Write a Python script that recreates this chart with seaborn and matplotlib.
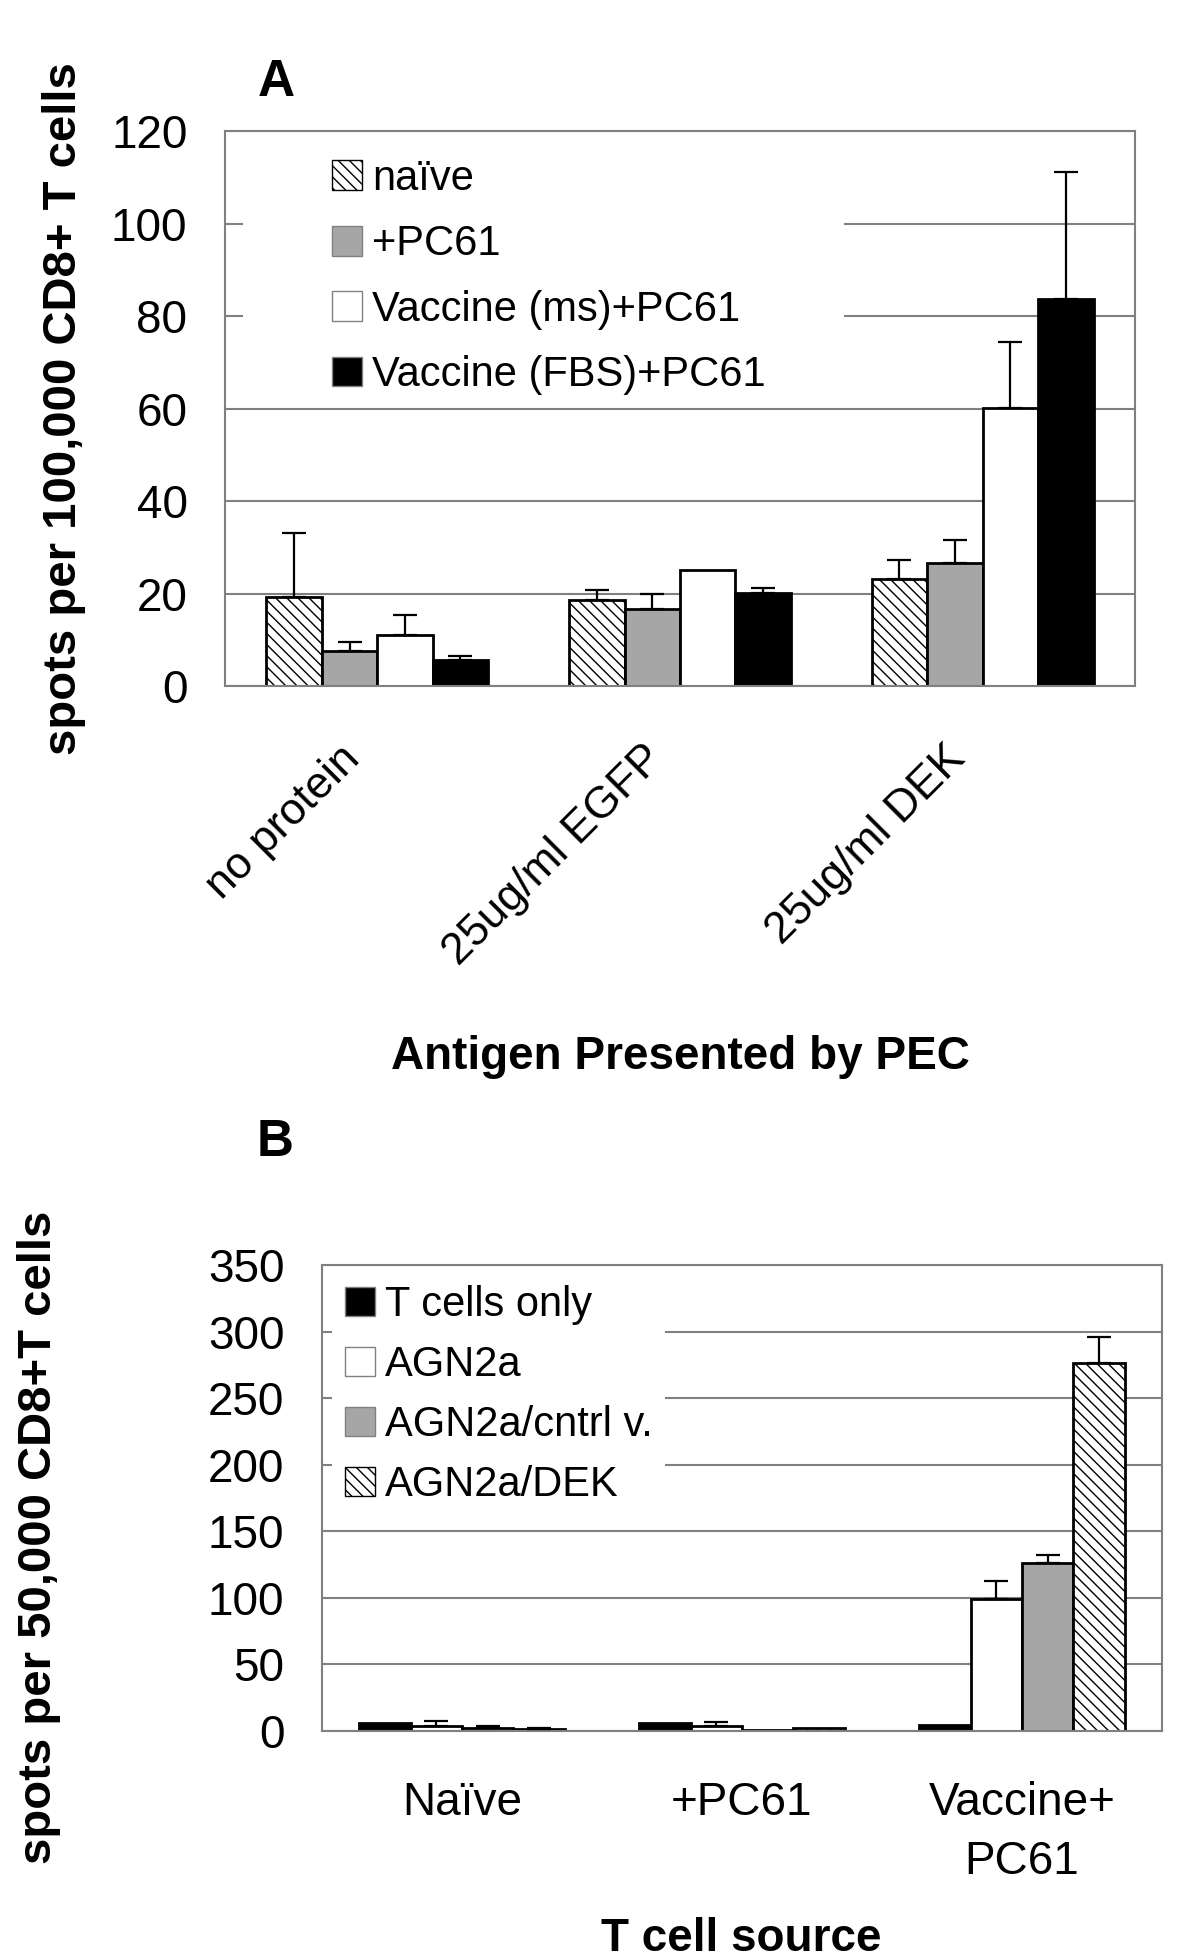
import numpy as np
import pandas as pd
import matplotlib
matplotlib.use('Agg')
import matplotlib.pyplot as plt
import matplotlib.transforms as mtransforms
import seaborn as sns
from matplotlib.patches import Patch, Rectangle

sns.set_style('white')
plt.rcParams['font.family'] = ['Liberation Sans', 'DejaVu Sans']
plt.rcParams['hatch.linewidth'] = 1.0
plt.rcParams['text.color'] = 'black'
plt.rcParams['xtick.labelcolor'] = 'black'
plt.rcParams['ytick.labelcolor'] = 'black'

# panel A: spots per 100,000 CD8+ T cells
antigens = ['no protein', '25ug/ml EGFP', '25ug/ml DEK']
groups_a = ['naïve', '+PC61', 'Vaccine (ms)+PC61', 'Vaccine (FBS)+PC61']
naive_a = [19.2, 18.7, 23.2]
pc61_a = [7.6, 16.7, 26.6]
vac_ms_a = [11.0, 25.1, 60.1]
vac_fbs_a = [5.7, 20.1, 83.7]
naive_a_err = [13.8, 2.0, 4.0]
pc61_a_err = [1.9, 3.2, 4.9]
vac_ms_a_err = [4.3, 0.0, 14.2]
vac_fbs_a_err = [0.8, 1.2, 27.5]

# panel B: spots per 50,000 CD8+ T cells
sources = ['Naïve', '+PC61', 'Vaccine+\nPC61']
groups_b = ['T cells only', 'AGN2a', 'AGN2a/cntrl v.', 'AGN2a/DEK']
tcells_b = [6.3, 5.8, 4.5]
agn2a_b = [3.7, 3.7, 98.8]
cntrl_b = [2.0, 1.0, 125.8]
dek_b = [1.5, 2.0, 276.3]
tcells_b_err = [0.0, 0.0, 0.0]
agn2a_b_err = [3.8, 3.0, 13.7]
cntrl_b_err = [2.0, 0.0, 6.2]
dek_b_err = [0.5, 0.0, 19.2]

GRAY = '#a6a6a6'
LINE = '#808080'
HATCH = '\\\\\\'

df_a = pd.DataFrame({
    'antigen': antigens * 4,
    'group': np.repeat(groups_a, 3),
    'spots': naive_a + pc61_a + vac_ms_a + vac_fbs_a,
})
err_a = [naive_a_err, pc61_a_err, vac_ms_a_err, vac_fbs_a_err]
colors_a = dict(zip(groups_a, ['white', GRAY, 'white', 'black']))
hatched_a = ['naïve']

df_b = pd.DataFrame({
    'source': sources * 4,
    'group': np.repeat(groups_b, 3),
    'spots': tcells_b + agn2a_b + cntrl_b + dek_b,
})
err_b = [tcells_b_err, agn2a_b_err, cntrl_b_err, dek_b_err]
colors_b = dict(zip(groups_b, ['black', 'white', GRAY, 'white']))
hatched_b = ['AGN2a/DEK']

fig = plt.figure(figsize=(12, 19.59), dpi=100)
ax_a = fig.add_axes([0.1875, 0.6498, 0.7583, 0.2833])
ax_b = fig.add_axes([0.2683, 0.1164, 0.70, 0.2379])


def draw_panel(ax, df, xcol, order, groups, colors, hatched, errs):
    sns.barplot(data=df, x=xcol, y='spots', hue='group', order=order,
                hue_order=groups, palette=colors, width=0.733, gap=0,
                saturation=1, edgecolor='black', linewidth=2,
                errorbar=None, legend=False, ax=ax, zorder=2)
    for cont, grp, err in zip(ax.containers, groups, errs):
        xs, ys, es = [], [], []
        for bar, e in zip(cont, err):
            if grp in hatched:
                bar.set_hatch(HATCH)
            if e > 0:
                xs.append(bar.get_x() + bar.get_width() / 2)
                ys.append(bar.get_height())
                es.append(e)
        if xs:
            ax.errorbar(xs, ys, yerr=[np.zeros(len(es)), es], fmt='none',
                        ecolor='black', elinewidth=1.6, capsize=8.5,
                        capthick=1.6, zorder=3)
    handles = [Patch(facecolor=colors[g],
                     edgecolor='black' if g in hatched else LINE,
                     linewidth=1, hatch=HATCH if g in hatched else None)
               for g in groups]
    ax.set_xlabel('')
    ax.set_ylabel('')
    ax.yaxis.grid(True, color=LINE, linewidth=1.5)
    ax.set_axisbelow(True)
    for sp in ax.spines.values():
        sp.set_color(LINE)
        sp.set_linewidth(1.5)
    return handles


# ---- panel A
h_a = draw_panel(ax_a, df_a, 'antigen', antigens, groups_a, colors_a,
                 hatched_a, err_a)
ax_a.set_ylim(0, 120)
ax_a.set_yticks(range(0, 121, 20))
ax_a.tick_params(axis='y', direction='inout', length=22, width=1.5,
                 color=LINE, labelsize=33, pad=16)
ax_a.tick_params(axis='x', length=0, labelsize=32, pad=37.5)
shift = mtransforms.ScaledTranslation(-0.09, 0, fig.dpi_scale_trans)
for lbl in ax_a.get_xticklabels():
    lbl.set_rotation(45)
    lbl.set_ha('right')
    lbl.set_transform(lbl.get_transform() + shift)
ax_a.add_patch(Rectangle((0.02, 0.535), 0.66, 0.455, transform=ax_a.transAxes,
                         facecolor='white', edgecolor='none', zorder=1))
ax_a.legend(h_a, groups_a, loc='upper left', bbox_to_anchor=(0.1176, 0.950),
            frameon=False, fontsize=30, handlelength=0.72, handleheight=0.72,
            handletextpad=0.25, labelspacing=0.61, borderpad=0,
            borderaxespad=0)

# ---- panel B
h_b = draw_panel(ax_b, df_b, 'source', sources, groups_b, colors_b,
                 hatched_b, err_b)
ax_b.set_ylim(0, 350)
ax_b.set_yticks(range(0, 351, 50))
ax_b.tick_params(axis='y', direction='inout', length=18, width=1.5,
                 color=LINE, labelsize=33, pad=18)
ax_b.tick_params(axis='x', which='major', length=0, labelsize=33, pad=36)
for lbl in ax_b.get_xticklabels():
    lbl.set_linespacing(1.45)
ax_b.set_xticks([-0.5, 0.5, 1.5, 2.5], minor=True)
ax_b.tick_params(axis='x', which='minor', direction='out', length=11,
                 width=1.2, color=LINE)
ax_b.set_xlim(-0.5, 2.5)
ax_b.add_patch(Rectangle((0.012, 0.474), 0.396, 0.516, transform=ax_b.transAxes,
                         facecolor='white', edgecolor='none', zorder=1))
ax_b.legend(h_b, groups_b, loc='upper left', bbox_to_anchor=(0.0274, 0.957),
            frameon=False, fontsize=30, handlelength=0.72, handleheight=0.72,
            handletextpad=0.25, labelspacing=0.48, borderpad=0,
            borderaxespad=0)

# labels
fig.text(64 / 1200, 1 - 409 / 1959, 'spots per 100,000 CD8+ T cells',
         rotation=90, ha='center', va='center', fontsize=34, fontweight='bold')
fig.text(680 / 1200, 1 - 1069 / 1959, 'Antigen Presented by PEC',
         ha='center', va='baseline', fontsize=33, fontweight='bold')
fig.text(276 / 1200, 1 - 96 / 1959, 'A', ha='center', va='baseline',
         fontsize=37, fontweight='bold')
fig.text(275 / 1200, 1 - 1156 / 1959, 'B', ha='center', va='baseline',
         fontsize=37, fontweight='bold')
fig.text(39 / 1200, 1 - 1537 / 1959, 'spots per 50,000 CD8+T cells',
         rotation=90, ha='center', va='center', fontsize=34, fontweight='bold')
fig.text(741 / 1200, 1 - 1951 / 1959, 'T cell source',
         ha='center', va='baseline', fontsize=33, fontweight='bold')

fig.savefig('out.png', dpi=100)
